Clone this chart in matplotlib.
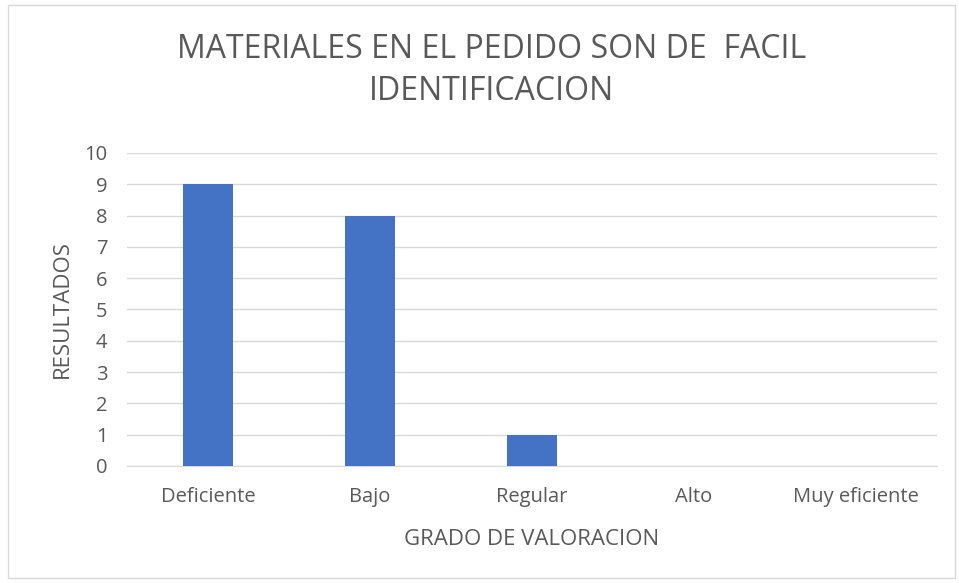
import matplotlib.pyplot as plt
from matplotlib.patches import Rectangle

categorias = ["Deficiente", "Bajo", "Regular", "Alto", "Muy eficiente"]
resultados = [9, 8, 1, 0, 0]
yticks = list(range(0, 11))

plt.rcParams['font.family'] = ['Open Sans', 'DejaVu Sans']

fig = plt.figure(figsize=(9.59, 5.83), dpi=100)
fig.patches.append(Rectangle((8 / 959, 5 / 583), 947 / 959, 573 / 583,
                             transform=fig.transFigure, fill=False,
                             edgecolor='#d9d9d9', linewidth=1))

ax = fig.add_axes([0.1324, 0.2007, 0.8446, 0.537])
x = range(len(categorias))
ax.bar(x, resultados, width=0.31, color='#4472c4', zorder=3)

ax.set_xlim(-0.5, len(categorias) - 0.5)
ax.set_ylim(0, 10)
ax.set_yticks(yticks)
ax.set_xticks(list(x))
ax.set_xticklabels(categorias)
ax.grid(axis='y', color='#d9d9d9', linewidth=1, zorder=0)
for s in ['top', 'right', 'left']:
    ax.spines[s].set_visible(False)
ax.spines['bottom'].set_color('#d9d9d9')
ax.tick_params(length=0, labelsize=14.5, colors='#595959')
ax.tick_params(axis='x', pad=15)
ax.tick_params(axis='y', pad=14)

ax.set_xlabel("GRADO DE VALORACION", fontsize=16, color='#595959', labelpad=16)
ax.set_ylabel("RESULTADOS", fontsize=16, color='#595959', labelpad=8)

fig.text(0.5125, 0.879, "MATERIALES EN EL PEDIDO SON DE  FACIL\nIDENTIFICACION",
         ha='center', va='center', fontsize=23, color='#595959',
         linespacing=1.35)

plt.savefig("out.png")
plt.close()
